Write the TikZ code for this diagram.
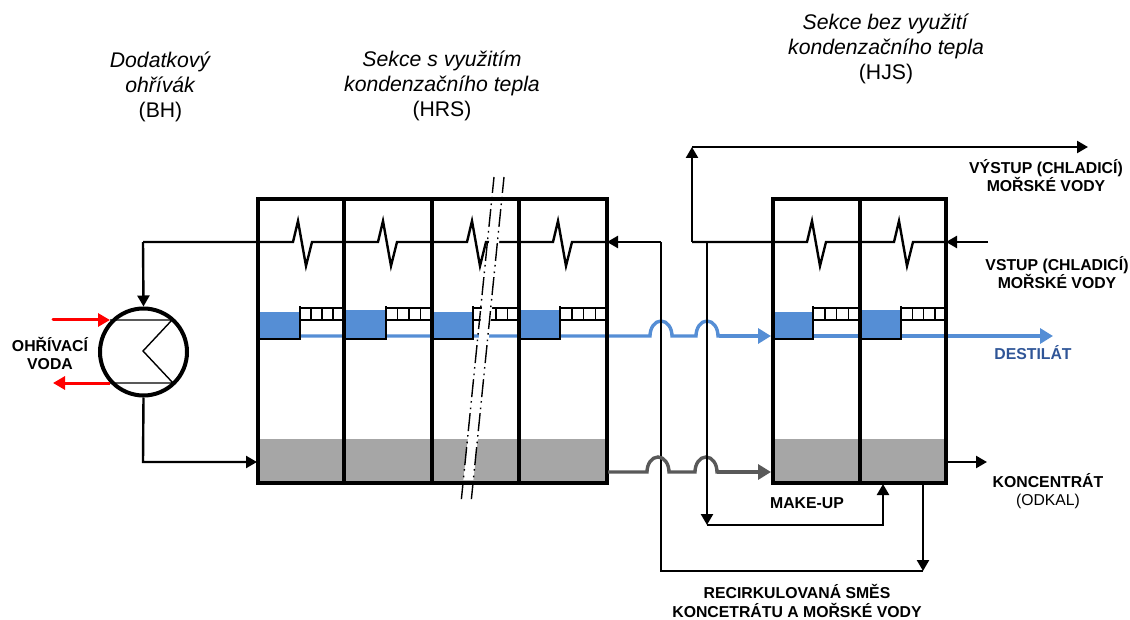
\documentclass[tikz,border=0pt]{standalone}
\usepackage{fontspec}
\setmainfont{Liberation Sans}
\usetikzlibrary{arrows.meta}
\definecolor{vodablue}{HTML}{558ED5}
\definecolor{solegrey}{HTML}{A6A6A6}
\definecolor{linegrey}{HTML}{595959}
\definecolor{destblue}{HTML}{2F5597}
\tikzset{
  wall/.style={line width=3.8pt, line join=miter},
  pipe/.style={line width=2.4pt, line join=miter},
  pipearrow/.style={pipe, -{Triangle[length=11pt,width=12pt]}},
  tray/.style={line width=1.5pt},
  weir/.style={line width=2.6pt},
  bluepipe/.style={line width=3.4pt, vodablue},
  greypipe/.style={line width=3.4pt, linegrey},
  bigarrow/.style={-{Triangle[length=13pt,width=15pt]}},
  breakline/.style={line width=1.4pt, dash pattern=on 18pt off 4pt on 1.6pt off 5pt on 1.6pt off 4pt, dash phase=2pt},
  zig/.style={insert path={-- ++(5,21) -- ++(8,-45) -- ++(6,24)}},
  hop/.style={insert path={arc (180:0:11 and 15)}},
  titletext/.style={font=\fontsize{21.2}{25}\selectfont, align=center},
  boldtext/.style={font=\fontsize{15.8}{18.5}\selectfont\bfseries, align=center, inner sep=0pt},
}
\begin{document}
\begin{tikzpicture}[x=1pt,y=1pt]
\useasboundingbox (0,0) rectangle (1130,-620);
% brine and distillate pools
\fill[solegrey] (258,-439) rectangle (607,-483);
\fill[solegrey] (773,-439) rectangle (946,-483);
\foreach \cl/\cw/\lev in {258/300/312,344/386/310,432/473/312,519/560/310,773/813/312,860/901/310}{
  \fill[vodablue] (\cl,-\lev) rectangle (\cw,-339);
}
% distillate line
\draw[bluepipe] (300,-336) -- (650,-336) [hop] -- (696,-336) [hop] -- (730,-336);
\draw[bluepipe, bigarrow] (719,-336) -- (771,-336);
\draw[bluepipe, bigarrow] (813,-336) -- (1053,-336);
% trays
\foreach \cw/\cr in {300/344,386/432,473/519,560/607,813/860,901/946}{
  \draw[tray] (\cw,-308) -- (\cr,-308);
  \draw[tray] (\cw,-320) -- (\cr,-320);
  \foreach \k in {1,2,3}{
    \draw[tray] ({\cw+\k*(\cr-\cw)/4},-308) -- ({\cw+\k*(\cr-\cw)/4},-320);
  }
}
\foreach \cl/\cw in {258/300,344/386,432/473,519/560,773/813,860/901}{
  \draw[weir] (\cl,-339) -- (\cw,-339) -- (\cw,-306);
}
% heater
\node[circle, draw, line width=4pt, minimum size=87pt, inner sep=0pt] (BH) at (143.5,-352) {};
\coordinate (BHa) at (110,-320);
\coordinate (BHb) at (172,-320);
\coordinate (BHc) at (110,-383);
\coordinate (BHd) at (173,-383);
\coordinate (BHm) at (143,-351);
\draw[line width=1.4pt] (BHa) -- (BHb) -- (BHm) -- (BHd) -- (BHc);
\coordinate (REDin) at (53,-320);
\coordinate (REDout) at (53,-383);
\draw[line width=3pt, red, line cap=round, -{Triangle[length=12pt,width=13pt]}] (REDin) -- (BHa);
\draw[line width=3pt, red, -{Triangle[length=12pt,width=13pt]}] (BHc) -- (REDout);
% condenser lines
\coordinate (HRSin) at (607,-242);
\coordinate (HRSout) at (143,-242);
\coordinate (HRSfeed) at (257,-462);
\coordinate (RECa) at (661,-242);
\coordinate (RECb) at (661,-571);
\coordinate (RECc) at (923,-571);
\coordinate (HJSbot) at (923,-483);
\draw[pipe] (HRSout) -- (293,-242) [zig] -- (378,-242) [zig] -- (467,-242) [zig] -- (553,-242) [zig] -- (HRSin);
\draw[pipearrow] (HRSout) -- (BH.north);
\draw[pipearrow] (BH.south) -- (143,-462) -- (HRSfeed);
\draw[pipearrow] (RECa) -- (HRSin);
\draw[pipe] (RECa) -- (RECb) -- (RECc);
\draw[pipearrow] (HJSbot) -- (RECc);
% break of the section
\fill[white] (493.4,-203) -- (503.4,-203) -- (473.4,-480) -- (463.4,-480) -- cycle;
% vessel walls
\draw[wall] (258,-199) rectangle (607,-483);
\foreach \dx in {344,432,519}{
  \draw[wall] (\dx,-199) -- (\dx,-483);
}
\draw[wall] (773,-199) rectangle (946,-483);
\draw[wall] (860,-199) -- (860,-483);
\draw[breakline] (494,-177) -- (461,-503);
\draw[breakline] (504,-177) -- (471,-503);
% concentrate line
\draw[greypipe] (608,-472) -- (647,-472) [hop] -- (695,-472) [hop] -- (730,-472);
\draw[greypipe, bigarrow] (717,-472) -- (771,-472);
% cooling water
\coordinate (HJSa) at (692,-242);
\coordinate (HJSin) at (946,-242);
\coordinate (CWin) at (988,-242);
\coordinate (CWtop) at (692,-147);
\coordinate (CWout) at (1088,-147);
\coordinate (MKa) at (707,-242);
\coordinate (MKb) at (707,-525);
\coordinate (MKc) at (883,-525);
\coordinate (MKd) at (883,-484);
\coordinate (KONa) at (946,-462);
\coordinate (KONb) at (987,-462);
\draw[pipe] (HJSa) -- (807,-242) [zig] -- (894,-242) [zig] -- (HJSin);
\draw[pipearrow] (CWin) -- (HJSin);
\draw[pipearrow] (HJSa) -- (CWtop);
\draw[pipearrow] (CWtop) -- (CWout);
\draw[pipearrow] (MKa) -- (MKb);
\draw[pipearrow] (MKb) -- (MKc) -- (MKd);
\draw[pipearrow] (KONa) -- (KONb);
% labels
\node[titletext] (BHt) at (160.5,-86.5) {\textit{Dodatkový}\\\textit{ohřívák}\\(BH)};
\node[titletext] (HRSt) at (442,-86) {\textit{Sekce s využitím}\\\textit{kondenzačního tepla}\\(HRS)};
\node[titletext] (HJSt) at (886,-49) {\textit{Sekce bez využití}\\\textit{kondenzačního tepla}\\(HJS)};
\node[boldtext] (VYSt) at (1046,-175.5) {VÝSTUP (CHLADICÍ)\\MOŘSKÉ VODY};
\node[boldtext] (VSTt) at (1057,-272.5) {VSTUP (CHLADICÍ)\\MOŘSKÉ VODY};
\node[boldtext, text=destblue] (DESt) at (1033,-353) {DESTILÁT};
\node[boldtext] (KONt) at (1048,-481) {KONCENTRÁT};
\node[font=\fontsize{15.7}{18}\selectfont] (ODKt) at (1048,-501) {(ODKAL)};
\node[boldtext] (MKt) at (807,-503) {MAKE-UP};
\node[boldtext] (RECt) at (797,-601) {RECIRKULOVANÁ SMĚS\\KONCETRÁTU A MOŘSKÉ VODY};
\node[boldtext] (BHv) at (50,-353.5) {OHŘÍVACÍ\\VODA};
\end{tikzpicture}
\end{document}
